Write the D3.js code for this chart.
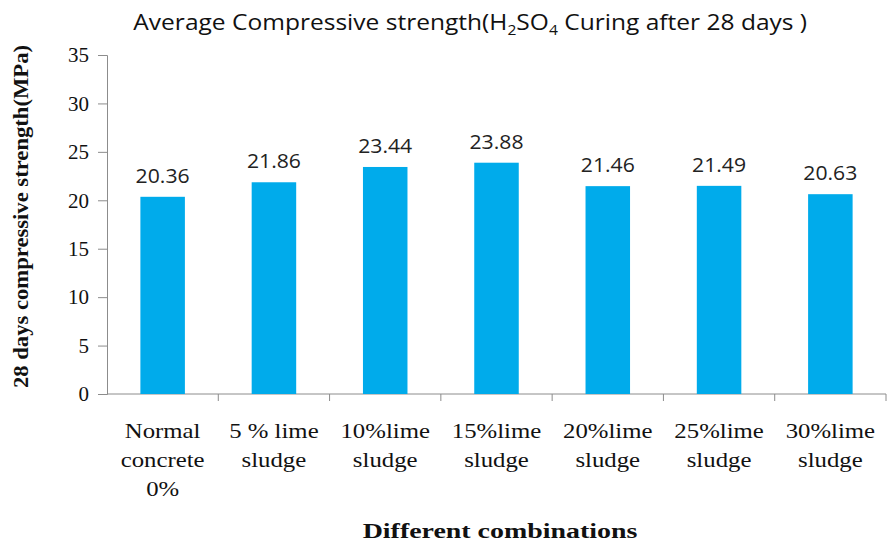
<!DOCTYPE html>
<html>
<head>
<meta charset="utf-8">
<script src="https://cdn.jsdelivr.net/npm/d3@7"></script>
<style>
  html, body { margin: 0; padding: 0; background: #fff; }
  svg { display: block; }
</style>
</head>
<body>
<svg id="chart" width="889" height="550"></svg>
<script>
// Compressive strength after 28 days of H2SO4 curing
const categories = [
  ["Normal", "concrete", "0%"],
  ["5 % lime", "sludge"],
  ["10%lime", "sludge"],
  ["15%lime", "sludge"],
  ["20%lime", "sludge"],
  ["25%lime", "sludge"],
  ["30%lime", "sludge"]
];
const strength = [20.36, 21.86, 23.44, 23.88, 21.46, 21.49, 20.63];
const yTicks = [0, 5, 10, 15, 20, 25, 30, 35];

const SERIF = "Liberation Serif";
const SANS = "Open Sans";

const svg = d3.select("#chart");
const margin = { left: 107, right: 3, top: 55, bottom: 156 };
const W = 889, H = 550;

const x = d3.scaleBand()
  .domain(d3.range(categories.length))
  .range([margin.left, W - margin.right])
  .paddingInner(0.6)
  .paddingOuter(0.3);

const xEdges = d3.scaleLinear()
  .domain([0, categories.length])
  .range([margin.left, W - margin.right]);

const y = d3.scaleLinear().domain([0, 35]).range([H - margin.bottom, margin.top]);

const axisColor = "#8c8c8c";

// Stretch a text node horizontally about its anchor point
function stretchX(node, sx, cx) {
  d3.select(node).attr("transform", `translate(${cx},0) scale(${sx},1) translate(${-cx},0)`);
}

// Title
const title = svg.append("text")
  .attr("x", 470).attr("y", 30)
  .attr("text-anchor", "middle")
  .style("font-family", SANS)
  .attr("font-size", 22)
  .attr("fill", "#111");
title.append("tspan").text("Average Compressive strength(H");
title.append("tspan").attr("font-size", 14).attr("dy", 5).text("2");
title.append("tspan").attr("dy", -5).text("SO");
title.append("tspan").attr("font-size", 14).attr("dy", 5).text("4");
title.append("tspan").attr("dy", -5).text(" Curing after 28 days )");
{
  const w = title.node().getBBox().width;
  stretchX(title.node(), 674 / w, 468);
}

// Y axis
const yAxis = svg.append("g")
  .attr("transform", `translate(${margin.left},0)`)
  .call(d3.axisLeft(y).tickValues(yTicks).tickSize(9).tickPadding(9));
yAxis.attr("font-family", null);
yAxis.select(".domain").attr("stroke", axisColor);
yAxis.selectAll(".tick line").attr("stroke", axisColor);
yAxis.selectAll(".tick text")
  .style("font-family", SERIF)
  .style("font-size", "21px")
  .attr("fill", "#111");

// X axis baseline and separator ticks
const base = y(0);
svg.append("line")
  .attr("x1", margin.left).attr("x2", W - margin.right)
  .attr("y1", base).attr("y2", base)
  .attr("stroke", axisColor);
svg.selectAll(".xsep")
  .data(d3.range(1, categories.length + 1))
  .join("line")
  .attr("x1", d => xEdges(d)).attr("x2", d => xEdges(d))
  .attr("y1", base).attr("y2", base + 7)
  .attr("stroke", axisColor);

// Bars
svg.selectAll(".bar")
  .data(strength)
  .join("rect")
  .attr("x", (d, i) => x(i))
  .attr("width", x.bandwidth())
  .attr("y", d => y(d))
  .attr("height", d => base - y(d))
  .attr("fill", "#00abeb");

// Value labels
svg.selectAll(".val")
  .data(strength)
  .join("text")
  .attr("x", (d, i) => x(i) + x.bandwidth() / 2)
  .attr("y", d => y(d) - 14)
  .attr("text-anchor", "middle")
  .style("font-family", SANS)
  .attr("font-size", 20)
  .attr("fill", "#222")
  .text(d => d.toFixed(2))
  .each(function (d, i) { stretchX(this, 1.06, x(i) + x.bandwidth() / 2); });

// Category labels
svg.selectAll(".cat")
  .data(categories)
  .join("text")
  .attr("text-anchor", "middle")
  .style("font-family", SERIF)
  .attr("font-size", 21)
  .attr("fill", "#111")
  .each(function (lines, i) {
    const cx = x(i) + x.bandwidth() / 2;
    const t = d3.select(this);
    lines.forEach((ln, k) => {
      t.append("tspan").attr("x", cx).attr("y", 438 + k * 29).text(ln);
    });
    stretchX(this, 1.18, cx);
  });

// Axis titles
const xTitle = svg.append("text")
  .attr("x", 500).attr("y", 538)
  .attr("text-anchor", "middle")
  .style("font-family", SERIF)
  .attr("font-weight", "bold")
  .attr("font-size", 20)
  .attr("fill", "#111")
  .text("Different combinations");
{
  const w = xTitle.node().getBBox().width;
  stretchX(xTitle.node(), 275 / w, 500);
}

svg.append("text")
  .attr("transform", `translate(28,${(45 + 388) / 2}) rotate(-90)`)
  .attr("text-anchor", "middle")
  .style("font-family", SERIF)
  .attr("font-weight", "bold")
  .attr("font-size", 21)
  .attr("textLength", 343)
  .attr("lengthAdjust", "spacingAndGlyphs")
  .attr("fill", "#111")
  .text("28 days compressive strength(MPa)");
</script>
</body>
</html>
